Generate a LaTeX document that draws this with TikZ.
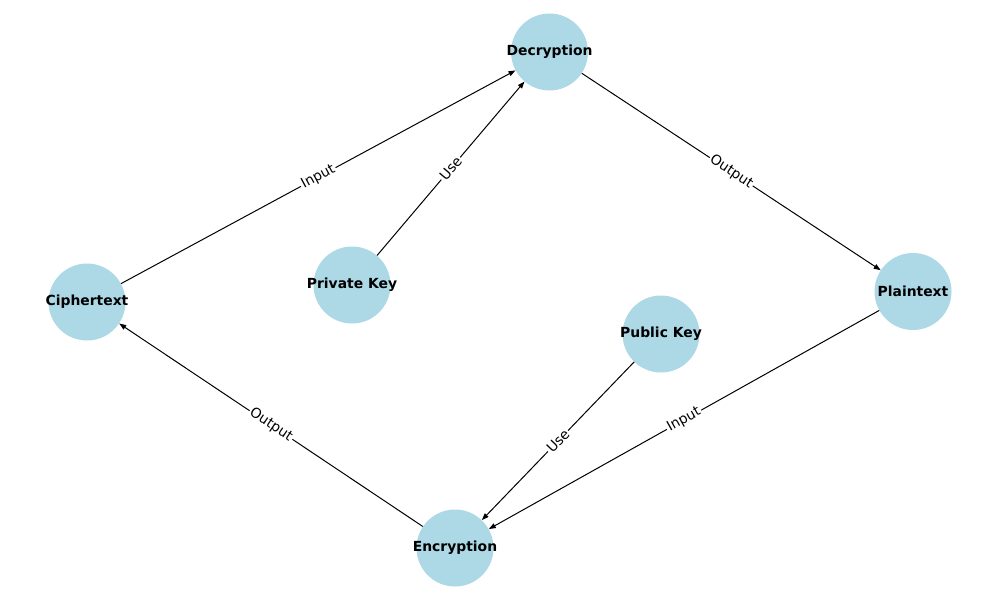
\documentclass[tikz,border=0pt]{standalone}
\usepackage{fontspec}
\setmainfont{DejaVu Sans}
\usetikzlibrary{arrows.meta}

\definecolor{lightblue}{HTML}{ADD8E6}

\begin{document}
\begin{tikzpicture}[x=1pt,y=-1pt,
  keynode/.style={circle, fill=lightblue, minimum size=77pt, inner sep=0pt,
    label={[font=\fontsize{13.9}{16}\selectfont\bfseries]center:#1}},
  flow/.style={-{Triangle[length=7pt,width=5pt]}, line width=1pt, black},
  flowlabel/.style={midway, sloped, fill=white, inner sep=1.5pt,
    font=\fontsize{13.9}{16}\selectfont}]
  \useasboundingbox (0,0) rectangle (1000,600);

  % Draw the nodes
  \node[keynode=Decryption] (decryption) at (549.5,52) {};
  \node[keynode=Plaintext] (plaintext) at (913,291.5) {};
  \node[keynode=Public Key] (publickey) at (661,334) {};
  \node[keynode=Encryption] (encryption) at (455,548) {};
  \node[keynode=Ciphertext] (ciphertext) at (87,302) {};
  \node[keynode=Private Key] (privatekey) at (352,285) {};

  % Draw the labelled edges
  \draw[flow] (ciphertext) -- (decryption) node[flowlabel] {Input};
  \draw[flow] (privatekey) -- (decryption) node[flowlabel] {Use};
  \draw[flow] (decryption) -- (plaintext) node[flowlabel] {Output};
  \draw[flow] (plaintext) -- (encryption) node[flowlabel] {Input};
  \draw[flow] (publickey) -- (encryption) node[flowlabel] {Use};
  \draw[flow] (encryption) -- (ciphertext) node[flowlabel] {Output};
\end{tikzpicture}
\end{document}
